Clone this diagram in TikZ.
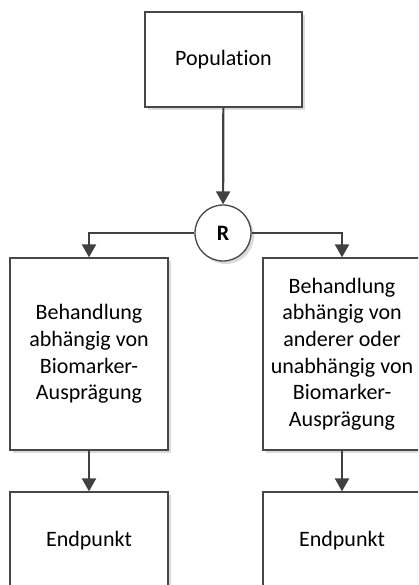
\documentclass[tikz,border=0pt]{standalone}
\usepackage{fontspec}
\setmainfont[Ligatures=NoCommon]{Carlito}
\usetikzlibrary{arrows.meta,shadows}
\begin{document}
\begin{tikzpicture}[x=1pt,y=1pt,
  box/.style={draw=black!72,line width=1.3pt,fill=white,align=center,
    inner sep=2pt,
    font=\fontsize{22}{26.7}\selectfont,
    drop shadow={shadow xshift=3pt,shadow yshift=-3pt,fill=black!14,opacity=1}},
  conn/.style={draw=black!75,line width=2.2pt,-{Triangle[length=13pt,width=14pt]}},
  line/.style={draw=black!75,line width=2pt}]
\clip (0,0) rectangle (418,-585);
\useasboundingbox (0,0) rectangle (418,-585);
\node[box,minimum width=157pt,minimum height=95pt] (pop) at (223.5,-59.5) {Population};
\node[box,circle,minimum size=56pt,inner sep=0pt,font=\fontsize{22}{26.7}\selectfont\bfseries] (R) at (223,-233) {R};
\node[box,minimum width=158pt,minimum height=192pt] (left) at (89,-354) {Behandlung\\abhängig von\\Biomarker-\\Ausprägung};
\node[box,minimum width=158pt,minimum height=192pt] (right) at (342,-354) {Behandlung\\abhängig von\\anderer oder\\unabhängig von\\Biomarker-\\Ausprägung};
\node[box,minimum width=158pt,minimum height=98pt] (endL) at (89,-541) {Endpunkt};
\node[box,minimum width=158pt,minimum height=98pt] (endR) at (342,-541) {Endpunkt};
\draw[conn] (pop) -- (R);
\draw[conn] (R.west) -| (left.north);
\draw[conn] (R.east) -| (right.north);
\draw[conn] (left) -- (endL);
\draw[conn] (right) -- (endR);
\end{tikzpicture}
\end{document}
